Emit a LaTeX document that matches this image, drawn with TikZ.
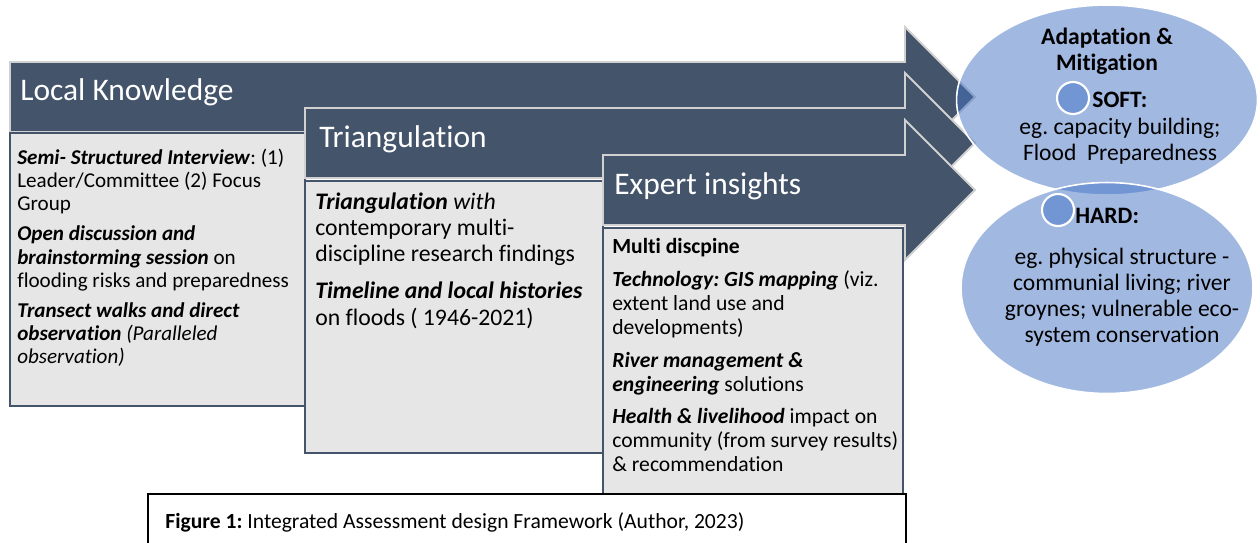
\documentclass[tikz,border=0pt]{standalone}
\usepackage{fontspec}
\setmainfont{Carlito}[Ligatures={NoCommon,NoContextual}]
\usepackage{xcolor}
\usetikzlibrary{shapes.geometric}
\frenchspacing

\definecolor{slate}{HTML}{44546A}
\definecolor{panelgrey}{HTML}{E7E6E6}
\definecolor{accentblue}{HTML}{4472C4}

\begin{document}
\begin{tikzpicture}[x=0.02cm,y=-0.02cm]
    \tikzstyle{band}=[fill=slate,draw=white!82!black,line width=1.1pt,line join=miter];
    \tikzstyle{panel}=[fill=panelgrey,draw=slate,line width=1pt];
    \tikzstyle{head}=[anchor=base west,inner sep=0,text=white,font=\fontsize{17.9}{21}\selectfont];
    \tikzstyle{lines}=[anchor=north west,inner sep=0,align=left];
    \tikzstyle{oval}=[ellipse,draw=white,line width=0.9pt,fill=accentblue,fill opacity=0.5,text opacity=1,inner sep=0];
    \tikzstyle{dot}=[circle,draw=white,line width=1.2pt,fill=accentblue,fill opacity=0.5,minimum size=0.64cm,inner sep=0];
    \tikzstyle{ovaltext}=[anchor=north,inner sep=0,align=center,font=\fontsize{13.4}{14.7}\selectfont];
    \tikzstyle{ovallabel}=[anchor=base west,inner sep=0,font=\bfseries\fontsize{13.4}{14.7}\selectfont];
    \useasboundingbox (0,0) rectangle (1260,542);

    % stage 1
    \draw[band] (10,62) -- (905,62) -- (905,27) -- (975,97) -- (905,167) -- (905,132) -- (10,132) -- cycle;
    \node[head] (local) at (20,100) {Local Knowledge};
    \draw[panel] (10,133) rectangle (305,406);
    \node[lines,font=\fontsize{12}{13.2}\selectfont] (localtxt) at (17,143)
        {\rule{0pt}{1em}\textbf{\textit{Semi- Structured Interview}}: (1)\\
         Leader/Committee (2) Focus\\
         Group\\[3.9pt]
         \textbf{\textit{Open discussion and}}\\
         \textbf{\textit{brainstorming session}} on\\
         flooding risks and preparedness\\[3.9pt]
         \textbf{\textit{Transect walks and direct}}\\
         \textbf{\textit{observation}} \textit{(Paralleled}\\
         \textit{observation)}};

    % stage 2
    \draw[band] (305,108) -- (905,108) -- (905,73) -- (975,143) -- (905,213) -- (905,178) -- (305,178) -- cycle;
    \node[head] (triang) at (319,147) {Triangulation};
    \draw[panel] (305,181) rectangle (603,453);
    \node[lines,font=\fontsize{13.5}{15}\selectfont] (triangtxt) at (315,185)
        {\rule{0pt}{1em}\textbf{\textit{Triangulation}} \textit{with}\\
         contemporary multi-\\
         discipline research findings\\[6pt]
         \textbf{\textit{Timeline and local histories}}\\
         on floods ( 1946-2021)};

    % stage 3
    \draw[band] (603,155) -- (905,155) -- (905,120) -- (975,190) -- (905,260) -- (905,225) -- (603,225) -- cycle;
    \node[head] (expert) at (614,194) {Expert insights};
    \draw[panel] (603,228) rectangle (903,505);
    \node[lines,font=\fontsize{12.3}{13.6}\selectfont] (experttxt) at (612,232)
        {\rule{0pt}{1em}\textbf{Multi discpine}\\[5pt]
         \textbf{\textit{Technology: GIS mapping}} (viz.\\
         extent land use and\\
         developments)\\[5pt]
         \textbf{\textit{River management \&}}\\
         \textbf{\textit{engineering}} solutions\\[5pt]
         \textbf{\textit{Health \& livelihood}} impact on\\
         community (from survey results)\\
         \& recommendation};

    % outcomes
    \node[oval,minimum width=6.02cm,minimum height=3.8cm] (soft) at (1107,100) {};
    \node[oval,minimum width=5.84cm,minimum height=4.22cm] (hard) at (1107,288) {};
    \node[ovaltext,font=\bfseries\fontsize{13.4}{14.7}\selectfont] (adapt) at (1107,21) {\rule{0pt}{1em}Adaptation \&\\Mitigation};
    \node[dot] (softdot) at (1073,98) {};
    \node[ovallabel] (softlbl) at (1092,107) {SOFT:};
    \node[ovaltext] (softtxt) at (1120,111) {\rule{0pt}{1em}eg. capacity building;\\Flood~~Preparedness};
    \node[dot] (harddot) at (1058,210) {};
    \node[ovallabel] (hardlbl) at (1075,223) {HARD:};
    \node[ovaltext] (hardtxt) at (1122,241)
        {\rule{0pt}{1em}eg. physical structure -\\communial living; river\\groynes; vulnerable eco-\\system conservation};

    % caption
    \draw[fill=white,draw=black,line width=0.8pt] (148,494) rectangle (906,570);
    \node[anchor=base west,inner sep=0,font=\fontsize{12.3}{14}\selectfont] (caption) at (165,528)
        {\textbf{Figure 1:} Integrated Assessment design Framework (Author, 2023)};
\end{tikzpicture}
\end{document}
